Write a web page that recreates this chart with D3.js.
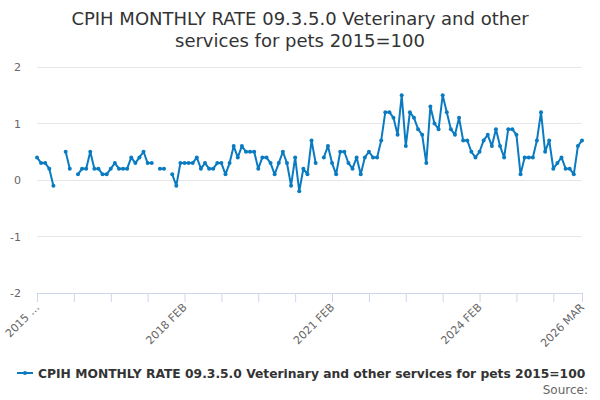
<!DOCTYPE html>
<html><head><meta charset="utf-8">
<script src="https://cdn.jsdelivr.net/npm/d3@7"></script>
<style>body{margin:0;background:#fff}svg{display:block;font-family:"DejaVu Sans",sans-serif}</style>
</head><body>
<svg id="chart" width="600" height="400"></svg>
<script>
const titleLines = ["CPIH MONTHLY RATE 09.3.5.0 Veterinary and other", "services for pets 2015=100"];
const seriesName = "CPIH MONTHLY RATE 09.3.5.0 Veterinary and other services for pets 2015=100";
const monthNames = ["JAN","FEB","MAR","APR","MAY","JUN","JUL","AUG","SEP","OCT","NOV","DEC"];
const startYear = 2015, startMonth = 1; // FEB
const values = [
 0.4,0.3,0.3,0.2,-0.1,null,null,0.5,0.2,null,
 0.1,0.2,0.2,0.5,0.2,0.2,0.1,0.1,0.2,0.3,
 0.2,0.2,0.2,0.4,0.3,0.4,0.5,0.3,0.3,null,
 0.2,0.2,null,0.1,-0.1,0.3,0.3,0.3,0.3,0.4,
 0.2,0.3,0.2,0.2,0.3,0.3,0.1,0.3,0.6,0.4,
 0.6,0.5,0.5,0.5,0.2,0.4,0.4,0.3,0.1,0.3,
 0.5,0.3,-0.1,0.4,-0.2,0.2,0.1,0.7,0.3,null,
 0.4,0.6,0.3,0.1,0.5,0.5,0.3,0.2,0.4,0.1,
 0.4,0.5,0.4,0.4,0.7,1.2,1.2,1.1,0.8,1.5,
 0.6,1.2,1.1,0.9,0.8,0.3,1.3,1.0,0.9,1.5,
 1.2,0.9,0.8,1.1,0.7,0.7,0.5,0.4,0.5,0.7,
 0.8,0.6,0.9,0.6,0.4,0.9,0.9,0.8,0.1,0.4,
 0.4,0.4,0.7,1.2,0.5,0.7,0.2,0.3,0.4,0.2,
 0.2,0.1,0.6,0.7
];
const categories = values.map((_, i) => {
  const m = startMonth + i;
  return (startYear + Math.floor(m / 12)) + " " + monthNames[m % 12];
});
const yTicks = [-2, -1, 0, 1, 2];
const xLabelCats = ["2015 FEB","2018 FEB","2021 FEB","2024 FEB","2026 MAR"];
const xLabelTexts = ["2015 …","2018 FEB","2021 FEB","2024 FEB","2026 MAR"];

const svg = d3.select("#chart");
const color = "#0a7bc1";
const plotL = 37, plotR = 582, plotT = 67, plotB = 293;

const x = d3.scalePoint().domain(categories).range([plotL, plotR]);
const y = d3.scaleLinear().domain([-2, 2]).range([plotB, plotT]);

// title
svg.append("text").attr("x", 300).attr("y", 25).attr("text-anchor", "middle")
  .attr("fill", "#333").style("font-size", "18px")
  .selectAll("tspan").data(titleLines).join("tspan")
  .attr("x", 300).attr("dy", (d, i) => i ? 22 : 0).text(d => d);

// grid
svg.append("g").selectAll("line").data(yTicks.filter(t => t > -2)).join("line")
  .attr("x1", plotL).attr("x2", plotR).attr("y1", d => y(d)).attr("y2", d => y(d))
  .attr("stroke", "#e6e6e6").attr("stroke-width", 1).attr("shape-rendering", "crispEdges");

// y labels
svg.append("g").selectAll("text").data(yTicks).join("text")
  .attr("x", 21).attr("y", d => y(d) + 4).attr("text-anchor", "end")
  .attr("fill", "#666").style("font-size", "11px").text(d => d);

// x axis
const tickIdx = d3.range(0, categories.length, 9).concat([categories.length - 1]);
const xAxis = d3.axisBottom(x).tickValues(tickIdx.map(i => categories[i]))
  .tickSize(9).tickFormat("");
const gx = svg.append("g").attr("transform", `translate(0,${plotB})`).call(xAxis);
gx.select(".domain").attr("stroke", "#ccd6eb").attr("d", `M${plotL},0.5H${plotR}`);
gx.selectAll(".tick line").attr("stroke", "#ccd6eb");

svg.append("g").selectAll("text").data(xLabelCats).join("text")
  .attr("transform", d => `translate(${x(d) + 3},${plotB + 15}) rotate(-45)`)
  .attr("text-anchor", "end").attr("fill", "#666").style("font-size", "11px")
  .text((d, i) => xLabelTexts[i]);

// line
const pts = values.map((v, i) => ({c: categories[i], v}));
const line = d3.line().defined(d => d.v !== null).x(d => x(d.c)).y(d => y(d.v));
svg.append("path").datum(pts).attr("d", line).attr("fill", "none")
  .attr("stroke", color).attr("stroke-width", 2).attr("stroke-linejoin", "round");
svg.append("g").selectAll("circle").data(pts.filter(d => d.v !== null)).join("circle")
  .attr("cx", d => x(d.c)).attr("cy", d => y(d.v)).attr("r", 2).attr("fill", color);

// legend
const lg = svg.append("g");
lg.append("line").attr("x1", 17).attr("x2", 33).attr("y1", 373).attr("y2", 373)
  .attr("stroke", color).attr("stroke-width", 2);
lg.append("circle").attr("cx", 25).attr("cy", 373).attr("r", 2).attr("fill", color);
lg.append("text").attr("x", 38).attr("y", 377.5).attr("fill", "#333")
  .style("font-size", "12.3px").style("font-weight", "bold").text(seriesName);

svg.append("text").attr("x", 588).attr("y", 394).attr("text-anchor", "end")
  .attr("fill", "#666").style("font-size", "12px").text("Source:");
</script>
</body></html>
